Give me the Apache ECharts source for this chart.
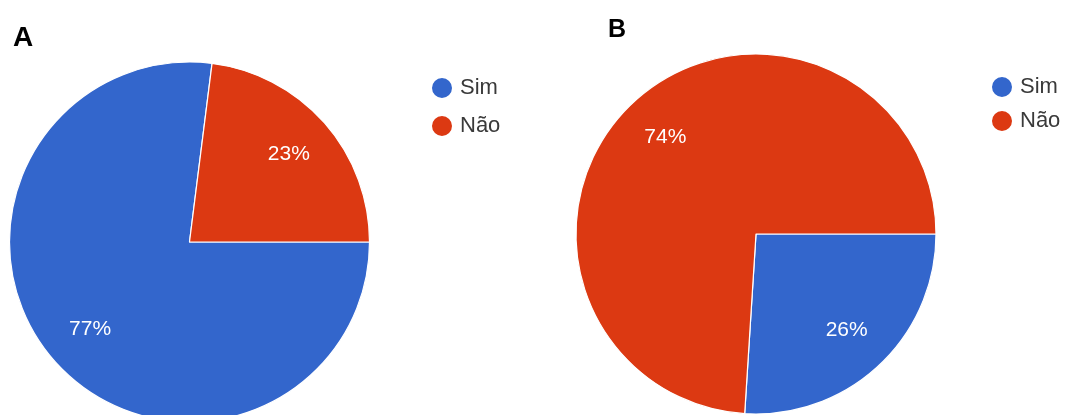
<!DOCTYPE html>
<html>
<head>
<meta charset="utf-8">
<script src="https://cdn.jsdelivr.net/npm/echarts@6/dist/echarts.min.js"></script>
<style>
  html, body { margin: 0; padding: 0; background: #fff; }
  #chart { width: 1065px; height: 415px; }
</style>
</head>
<body>
<div id="chart"></div>
<script>
const categories = ['Sim', 'Não'];
const valuesA = [77, 23];
const valuesB = [26, 74];
const panelTitles = ['A', 'B'];
const sliceColors = ['#3366cc', '#dc3912'];

const chart = echarts.init(document.getElementById('chart'), null, { renderer: 'canvas' });

const toData = vals => categories.map((name, i) => ({
  name,
  value: vals[i],
  itemStyle: { color: sliceColors[i] }
}));

// solid pie, white separators between slices
function piePart(vals, center) {
  return {
    type: 'pie',
    center,
    radius: 180,
    startAngle: 0,
    clockwise: true,
    legendHoverLink: false,
    label: { show: false },
    labelLine: { show: false },
    itemStyle: { borderColor: '#ffffff', borderWidth: 1.2 },
    emphasis: { disabled: true },
    data: toData(vals)
  };
}

// transparent ring on top, only used to put the % labels at ~0.72 r
function labelPart(vals, center) {
  return {
    type: 'pie',
    center,
    radius: [79, 180],
    startAngle: 0,
    clockwise: true,
    silent: true,
    z: 3,
    itemStyle: { color: 'transparent' },
    label: {
      show: true,
      position: 'inside',
      formatter: '{d}%',
      color: '#ffffff',
      fontFamily: 'Arial, "Liberation Sans", sans-serif',
      fontSize: 21
    },
    labelLine: { show: false },
    emphasis: { disabled: true },
    data: categories.map((name, i) => ({ name: name + ' ', value: vals[i] }))
  };
}

const legendText = {
  color: '#3a3a3a',
  fontFamily: 'Arial, "Liberation Sans", sans-serif',
  fontSize: 22
};

const option = {
  backgroundColor: '#ffffff',
  animation: false,
  title: [
    {
      text: panelTitles[0], left: 8, top: 19,
      textStyle: { fontFamily: 'Arial, "Liberation Sans", sans-serif', fontSize: 28, fontWeight: 'bold', color: '#000' }
    },
    {
      text: panelTitles[1], left: 603, top: 13,
      textStyle: { fontFamily: 'Arial, "Liberation Sans", sans-serif', fontSize: 25, fontWeight: 'bold', color: '#000' }
    }
  ],
  legend: [
    {
      seriesIndex: 0,
      data: categories,
      orient: 'vertical',
      left: 425, top: 71,
      icon: 'circle',
      itemWidth: 22, itemHeight: 22, itemGap: 14,
      selectedMode: false,
      textStyle: Object.assign({ padding: [0, 0, 0, 2] }, legendText)
    },
    {
      data: categories,
      orient: 'vertical',
      left: 985, top: 70,
      icon: 'circle',
      itemWidth: 22, itemHeight: 22, itemGap: 10,
      selectedMode: false,
      textStyle: Object.assign({ padding: [0, 0, 0, 2] }, legendText)
    }
  ],
  series: [
    piePart(valuesA, [189.5, 242]),
    labelPart(valuesA, [189.5, 242]),
    piePart(valuesB, [756, 234]),
    labelPart(valuesB, [756, 234])
  ]
};

chart.setOption(option);
</script>
</body>
</html>
